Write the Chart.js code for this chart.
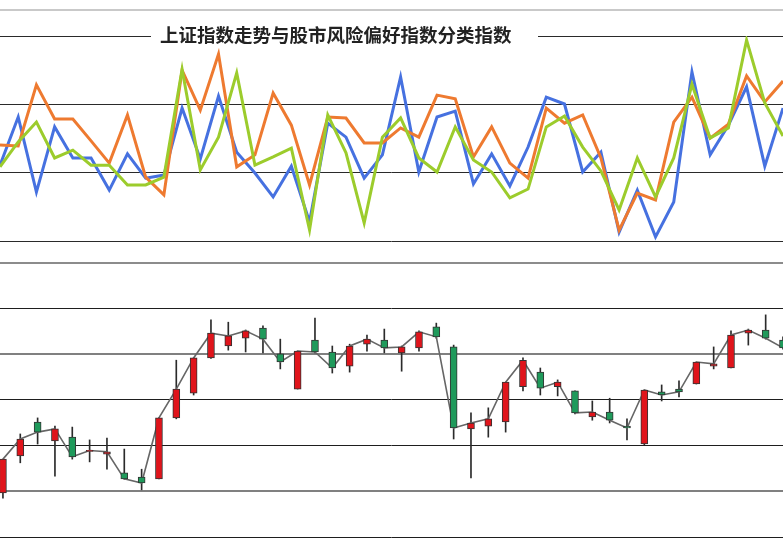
<!DOCTYPE html>
<html>
<head>
<meta charset="utf-8">
<script src="https://cdn.jsdelivr.net/npm/chart.js@4.4.1/dist/chart.umd.min.js"></script>
<style>
  html, body { margin: 0; padding: 0; background: #fff; }
  #wrap { position: relative; width: 783px; height: 559px; overflow: hidden; background: #fff; }
  #wrap canvas { position: absolute; left: 0; }
  #riskChart { top: 0; }
  #indexChart { top: 270px; }
  .rule { position: absolute; left: 0; width: 783px; }
  #topRule { top: 9px; height: 2px; background: #c9c9c9; }
  #midRule { top: 262px; height: 2px; background: #8c8c8c; }
  #chartTitle {
    position: absolute; left: 151px; top: 22px; width: 387px; height: 24px;
    line-height: 24px; padding-left: 9px; box-sizing: border-box; background: #fff;
    font-family: "Noto Sans CJK SC", sans-serif; font-size: 18.5px; font-weight: bold;
    color: #222; white-space: nowrap;
  }
</style>
</head>
<body>
<div id="wrap">
  <div id="topRule" class="rule"></div>
  <canvas id="riskChart" width="783" height="265"></canvas>
  <div id="chartTitle">上证指数走势与股市风险偏好指数分类指数</div>
  <div id="midRule" class="rule"></div>
  <canvas id="indexChart" width="783" height="289"></canvas>
</div>
<script>
// upper panel: risk appetite sub-indices
const periods = Array.from({ length: 44 }, (_, i) => i + 1);
const blueSeries = [42.2, 56.3, 34.3, 53.4, 44.3, 44.3, 34.9, 45.5, 38.4, 39.3,
                    58.9, 44.0, 62.4, 46.0, 39.9, 32.9, 41.9, 25.6, 54.5, 50.4,
                    38.4, 45.2, 68.0, 40.2, 56.3, 58.0, 36.7, 45.5, 36.1, 47.5,
                    62.1, 60.1, 40.2, 46.0, 22.6, 34.9, 21.2, 31.4, 69.5, 45.2,
                    53.9, 65.1, 41.9, 58.9];
const orangeSeries = [48.1, 47.8, 65.7, 55.7, 55.7, 49.3, 42.8, 56.9, 38.7, 33.5,
                      70.0, 58.3, 74.7, 41.7, 45.2, 63.3, 53.9, 36.4, 56.3, 56.0,
                      48.7, 48.7, 53.1, 50.4, 62.7, 61.6, 44.6, 53.4, 42.8, 38.4,
                      58.9, 54.5, 56.9, 44.3, 23.2, 34.0, 32.0, 54.8, 62.1, 50.1,
                      54.2, 68.3, 60.7, 66.8];
const greenSeries = [41.7, 49.0, 54.8, 44.3, 46.6, 42.2, 42.2, 36.4, 36.4, 38.7,
                     70.3, 40.8, 50.4, 69.2, 42.2, 44.6, 47.2, 23.2, 56.9, 45.8,
                     25.3, 50.4, 56.0, 44.3, 40.2, 53.4, 43.7, 40.2, 32.6, 35.2,
                     53.4, 56.6, 47.5, 40.5, 29.1, 44.3, 32.9, 44.3, 65.9, 50.1,
                     53.1, 78.8, 60.4, 50.7];
const riskRange = [20, 80];
const riskStep = 20;

// lower panel: index candles
const openVals  = [2896, 2977, 3051, 3010, 3018, 2987, 2981, 2940, 2931, 2927,
                   3060, 3114, 3191, 3217, 3234, 3256, 3200, 3123, 3230, 3204,
                   3173, 3221, 3230, 3202, 3213, 3259, 3215, 3036, 3042, 3051,
                   3128, 3160, 3128, 3119, 3062, 3073, 3042, 3003, 3117, 3123,
                   3134, 3173, 3169, 3245, 3252, 3230];
const highVals  = [2970, 3025, 3060, 3042, 3040, 3012, 3016, 2992, 2948, 3060,
                   3186, 3191, 3274, 3269, 3252, 3261, 3232, 3206, 3278, 3217,
                   3221, 3241, 3254, 3217, 3250, 3267, 3219, 3071, 3082, 3138,
                   3191, 3169, 3143, 3119, 3097, 3103, 3058, 3121, 3132, 3141,
                   3182, 3215, 3250, 3254, 3285, 3237];
const lowVals   = [2885, 2962, 3003, 2933, 2970, 2964, 2948, 2926, 2903, 2927,
                   3058, 3110, 3190, 3208, 3204, 3202, 3167, 3123, 3202, 3158,
                   3160, 3206, 3202, 3162, 3206, 3234, 3014, 2929, 3018, 3029,
                   3119, 3110, 3108, 3069, 3055, 3049, 3012, 3001, 3097, 3106,
                   3134, 3167, 3169, 3219, 3232, 3210];
const closeVals = [2970, 3014, 3029, 3036, 2975, 2989, 2986, 2927, 2918, 3060,
                   3123, 3191, 3245, 3239, 3250, 3232, 3182, 3206, 3204, 3169,
                   3217, 3232, 3213, 3215, 3248, 3237, 3038, 3049, 3058, 3138,
                   3186, 3125, 3138, 3071, 3073, 3055, 3038, 3121, 3110, 3117,
                   3182, 3178, 3241, 3252, 3234, 3213];
const indexRange = [2800, 3300];
const indexStep = 100;

const upColor = "#e0141b";
const downColor = "#1f9a5b";

new Chart(document.getElementById("riskChart"), {
    type: "line",
    data: {
        labels: periods,
        datasets: [
            { label: "分类指数一", data: blueSeries, borderColor: "#4671e0", borderWidth: 3, pointRadius: 0, order: 3 },
            { label: "分类指数二", data: orangeSeries, borderColor: "#ee7a30", borderWidth: 3, pointRadius: 0, order: 2 },
            { label: "分类指数三", data: greenSeries, borderColor: "#9ccc2c", borderWidth: 3, pointRadius: 0, order: 1 },
        ]
    },
    options: {
        responsive: false,
        animation: false,
        devicePixelRatio: 1,
        layout: { padding: { top: 36, bottom: 24, left: 0, right: 0 } },
        plugins: { legend: { display: false }, tooltip: { enabled: false } },
        scales: {
            x: { display: false, offset: false },
            y: {
                min: riskRange[0], max: riskRange[1],
                ticks: { stepSize: riskStep, display: false },
                grid: { color: "#2a2a2a", lineWidth: 1, drawTicks: false },
                border: { display: false },
            }
        }
    }
});

const bodyData = openVals.map((o, i) => ({ x: i, y: [o, closeVals[i]] }));
const wickData = lowVals.map((l, i) => ({ x: i, y: [l, highVals[i]] }));
const closeLine = closeVals.map((c, i) => ({ x: i, y: c }));
const bodyColors = openVals.map((o, i) => closeVals[i] >= o ? upColor : downColor);

const isSoftLine = v => v === 2900 || v === 3200;

new Chart(document.getElementById("indexChart"), {
    type: "bar",
    data: {
        datasets: [
            {
                type: "bar", label: "上证指数", data: bodyData,
                backgroundColor: bodyColors, borderColor: "#333", borderWidth: 1,
                borderSkipped: false, barThickness: 7, grouped: false, order: 0,
            },
            {
                type: "line", label: "收盘", data: closeLine,
                borderColor: "#666", borderWidth: 1.6, pointRadius: 0, order: 1,
            },
            {
                type: "bar", label: "影线", data: wickData,
                backgroundColor: "#2b2b2b", barThickness: 1, grouped: false, order: 2,
            },
        ]
    },
    options: {
        responsive: false,
        animation: false,
        devicePixelRatio: 1,
        layout: { padding: { top: 38, bottom: 22, left: 0, right: 0 } },
        plugins: { legend: { display: false }, tooltip: { enabled: false } },
        scales: {
            x: { type: "linear", min: -0.17, max: 45, offset: false, display: false },
            y: {
                min: indexRange[0], max: indexRange[1],
                ticks: { stepSize: indexStep, display: false },
                grid: {
                    drawTicks: false,
                    color: ctx => isSoftLine(ctx.tick && ctx.tick.value) ? "#808080" : "#1e1e1e",
                    lineWidth: ctx => isSoftLine(ctx.tick && ctx.tick.value) ? 2 : 1,
                },
                border: { display: false },
            }
        }
    }
});
</script>
</body>
</html>
